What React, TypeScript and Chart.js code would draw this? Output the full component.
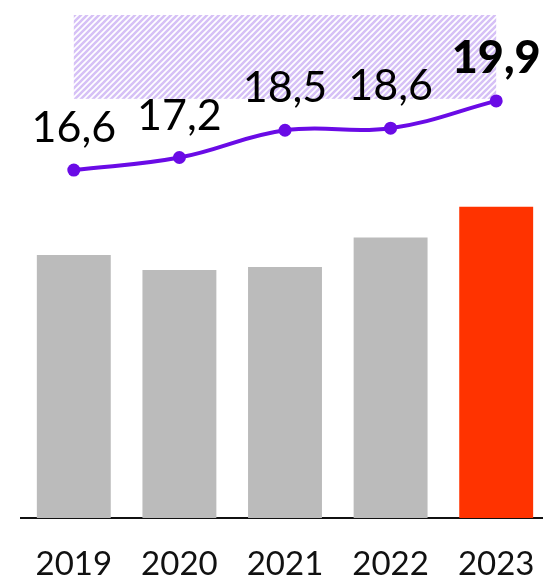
import React, { useEffect, useRef } from "react";
import { Chart, registerables } from "chart.js";

Chart.register(...registerables);

const years = ["2019", "2020", "2021", "2022", "2023"];
const barValues = [12.55, 11.83, 11.98, 13.38, 14.85];
const lineValues = [16.6, 17.2, 18.5, 18.6, 19.9];
const lineLabels = ["16,6", "17,2", "18,5", "18,6", "19,9"];
const bandRange = [20, 24];
const barColors = ["#bbbbbb", "#bbbbbb", "#bbbbbb", "#bbbbbb", "#ff3300"];

const PURPLE = "#6a0be6";
const FONT = "Lato, 'Open Sans', sans-serif";

function makeHatch(ctx: CanvasRenderingContext2D) {
  const c = document.createElement("canvas");
  const s = 6;
  c.width = s;
  c.height = s;
  const p = c.getContext("2d")!;
  p.fillStyle = "#ffffff";
  p.fillRect(0, 0, s, s);
  p.strokeStyle = "#d6c1f6";
  p.lineWidth = 2.6;
  p.beginPath();
  p.moveTo(-1, s + 1);
  p.lineTo(s + 1, -1);
  p.moveTo(-1, 1);
  p.lineTo(1, -1);
  p.moveTo(s - 1, s + 1);
  p.lineTo(s + 1, s - 1);
  p.stroke();
  return ctx.createPattern(c, "repeat");
}

const bandPlugin = {
  id: "band",
  beforeDatasetsDraw(chart: any) {
    const ctx = chart.ctx as CanvasRenderingContext2D;
    const x = chart.scales.x;
    const y = chart.scales.y;
    const x0 = x.getPixelForValue(0);
    const x1 = x.getPixelForValue(years.length - 1);
    const yTop = y.getPixelForValue(bandRange[1]);
    const yBot = y.getPixelForValue(bandRange[0]);
    ctx.save();
    const pat = makeHatch(ctx);
    if (pat) ctx.fillStyle = pat;
    ctx.fillRect(x0, yTop, x1 - x0, yBot - yTop);
    ctx.restore();
  },
};

const labelPlugin = {
  id: "valueLabels",
  afterDatasetsDraw(chart: any) {
    const ctx = chart.ctx as CanvasRenderingContext2D;
    const meta = chart.getDatasetMeta(1);
    ctx.save();
    ctx.textAlign = "center";
    ctx.textBaseline = "alphabetic";
    ctx.fillStyle = "#000000";
    meta.data.forEach((pt: any, i: number) => {
      const last = i === lineLabels.length - 1;
      ctx.font = last ? `900 45px ${FONT}` : `400 43px ${FONT}`;
      ctx.fillText(lineLabels[i], pt.x, pt.y - 28);
    });
    ctx.restore();
  },
};

export default function App() {
  const ref = useRef<HTMLCanvasElement | null>(null);

  useEffect(() => {
    if (!ref.current) return;
    const chart = new Chart(ref.current, {
      type: "bar",
      data: {
        labels: years,
        datasets: [
          {
            type: "bar",
            data: barValues,
            backgroundColor: barColors,
            borderWidth: 0,
            barPercentage: 0.7,
            categoryPercentage: 1,
            order: 1,
          },
          {
            type: "line",
            data: lineValues,
            borderColor: PURPLE,
            backgroundColor: PURPLE,
            borderWidth: 4,
            pointRadius: 6.5,
            pointBackgroundColor: PURPLE,
            pointBorderWidth: 0,
            tension: 0.4,
            fill: false,
            order: 0,
          } as any,
        ],
      },
      options: {
        responsive: true,
        maintainAspectRatio: false,
        animation: false,
        layout: {
          autoPadding: false,
          padding: { top: 15, left: 21, right: 1, bottom: 0 },
        },
        plugins: {
          legend: { display: false },
          tooltip: { enabled: false },
        },
        scales: {
          x: {
            grid: {
              display: true,
              drawOnChartArea: false,
              drawTicks: true,
              tickLength: 27,
              tickColor: "rgba(0,0,0,0)",
            },
            border: { display: true, color: "#111111", width: 2 },
            ticks: {
              color: "#111111",
              padding: 0,
              font: { family: FONT, size: 33, weight: "normal" as any },
            },
            afterFit(scale: any) {
              scale.height = 61;
            },
          },
          y: {
            display: false,
            min: 0,
            max: 24,
          },
        },
      },
      plugins: [bandPlugin, labelPlugin],
    });
    return () => chart.destroy();
  }, []);

  return (
    <div
      style={{
        position: "absolute",
        left: 0,
        top: 0,
        width: 543,
        height: 579,
        overflow: "hidden",
        background: "#ffffff",
      }}
    >
      <div style={{ position: "relative", width: 550, height: 579 }}>
        <canvas ref={ref} />
      </div>
    </div>
  );
}
